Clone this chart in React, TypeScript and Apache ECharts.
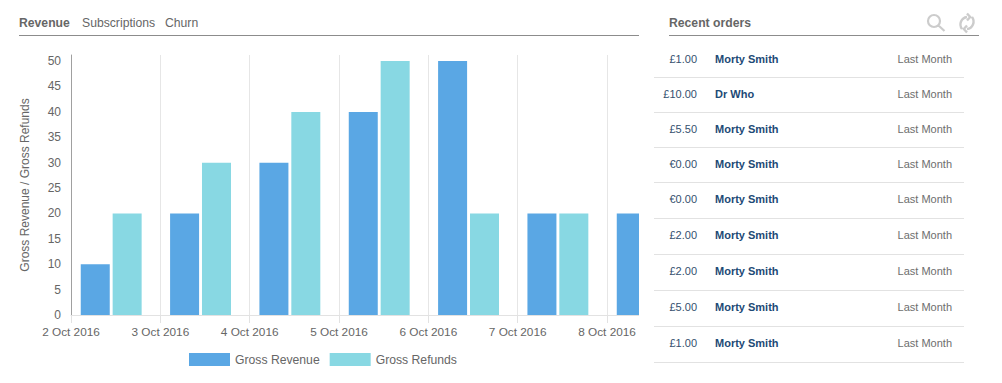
import React, { useEffect, useRef } from "react";
import * as echarts from "echarts";

const dates = ["2 Oct 2016", "3 Oct 2016", "4 Oct 2016", "5 Oct 2016", "6 Oct 2016", "7 Oct 2016", "8 Oct 2016"];
const grossRevenue = [10, 20, 30, 40, 50, 20, 20];
const grossRefunds = [20, 30, 40, 50, 20, 20];
const tabs = ["Revenue", "Subscriptions", "Churn"];
const amounts = ["£1.00", "£10.00", "£5.50", "€0.00", "€0.00", "£2.00", "£2.00", "£5.00", "£1.00"];
const customers = ["Morty Smith", "Dr Who", "Morty Smith", "Morty Smith", "Morty Smith", "Morty Smith", "Morty Smith", "Morty Smith", "Morty Smith"];
const times = ["Last Month", "Last Month", "Last Month", "Last Month", "Last Month", "Last Month", "Last Month", "Last Month", "Last Month"];

const FONT = '"Liberation Sans", Arial, sans-serif';
const rowY = [59, 94, 129, 164, 199, 235, 271, 307, 343];
const sepY = [77.5, 112.5, 147.5, 182.5, 218.5, 254.5, 290.5, 326.5, 362.5];
const tabX = [19, 82, 165];

echarts.graphic.registerShape("searchIcon", echarts.graphic.extendPath("M6 0a6 6 0 1 0 0 12a6 6 0 1 0 0-12zM10.5 10.5l6 5.5", {}));
echarts.graphic.registerShape("refreshIcon", echarts.graphic.extendPath("M3 16A7.5 7.5 0 0 1 8 4M13 4A7.5 7.5 0 0 1 8 16M8 0.5l3.2 3.5l-3.2 3.5M8 19.5l-3.2-3.5l3.2-3.5", {}));

const text = (x: number, y: number, t: string, fill: string, extra: any = {}) => ({
  type: "text", x, y,
  style: { text: t, fill, font: `${extra.weight || "normal"} ${extra.size || 11}px ${FONT}`, textAlign: extra.align || "left", textVerticalAlign: "middle" },
});
const line = (x1: number, x2: number, y: number, stroke: string) => ({
  type: "line", shape: { x1, y1: y, x2, y2: y }, style: { stroke, lineWidth: 1 },
});

export default function App() {
  const chartRef = useRef<HTMLDivElement>(null);
  const panelRef = useRef<HTMLDivElement>(null);
  useEffect(() => {
    const chart = echarts.init(chartRef.current!, undefined, { renderer: "svg" });
    const panel = echarts.init(panelRef.current!, undefined, { renderer: "svg" });

    const panelGraphics: any[] = [
      text(19, 22.5, "Recent orders", "#666", { size: 12.2, weight: "bold" }),
      line(19, 329, 35.5, "#8c8c8c"),
      { type: "searchIcon", x: 278, y: 15, style: { fill: "none", stroke: "#cccccc", lineWidth: 2.2 } },
      { type: "refreshIcon", x: 309, y: 13, style: { fill: "none", stroke: "#cccccc", lineWidth: 2.4 } },
    ];
    amounts.forEach((a, i) => {
      panelGraphics.push(text(47, rowY[i], a, "#34506e", { align: "right" }));
      panelGraphics.push(text(65, rowY[i], customers[i], "#1d4a76", { weight: "bold" }));
      panelGraphics.push(text(302, rowY[i], times[i], "#6e6e6e", { align: "right" }));
      panelGraphics.push(line(4, 314, sepY[i], "#e2e2e2"));
    });
    panel.setOption({ animation: false, graphic: { elements: panelGraphics } });

    const barOffset = 0.45;
    const toPoints = (vals: number[]) => vals.map((v, i) => [i + barOffset, v]);
    chart.setOption({
      animation: false,
      textStyle: { fontFamily: FONT },
      grid: { left: 71, top: 55, width: 568, height: 260 },
      legend: {
        left: 184, top: 348, itemWidth: 41, itemHeight: 13, itemGap: 10, icon: "rect",
        textStyle: { color: "#666", fontSize: 12.2, fontFamily: FONT },
        data: ["Gross Revenue", "Gross Refunds"],
      },
      xAxis: {
        type: "value", min: 0, max: 6.358, interval: 1,
        axisLine: { show: true, lineStyle: { color: "#e2e2e2" } },
        axisTick: { show: true, length: 8, lineStyle: { color: "#e2e2e2" } },
        splitLine: { show: true, showMaxLine: false, lineStyle: { color: "#e6e6e6" } },
        axisLabel: {
          color: "#666", fontSize: 11.8, margin: 11, showMaxLabel: false, hideOverlap: false,
          formatter: (v: number) => dates[v] ?? "",
        },
      },
      yAxis: {
        type: "value", min: 0, max: 51.2, interval: 5,
        name: "Gross Revenue / Gross Refunds", nameLocation: "middle", nameGap: 40,
        nameTextStyle: { color: "#666", fontSize: 12 },
        axisLine: { show: true, lineStyle: { color: "#a0a0a0" } },
        axisTick: { show: false },
        splitLine: { show: false },
        axisLabel: { color: "#666", fontSize: 12, margin: 10, showMaxLabel: false },
      },
      series: [
        { name: "Gross Revenue", type: "bar", data: toPoints(grossRevenue), barWidth: 29, barGap: "10%", itemStyle: { color: "#5aa7e4" } },
        { name: "Gross Refunds", type: "bar", data: toPoints(grossRefunds), barWidth: 29, barGap: "10%", itemStyle: { color: "#88d8e3" } },
      ],
      graphic: {
        elements: [
          ...tabs.map((t, i) => text(tabX[i], 22.5, t, "#666", { size: 12.2, weight: i === 0 ? "bold" : "normal" })),
          line(19, 639, 35.5, "#8c8c8c"),
        ],
      },
    });
    return () => {
      chart.dispose();
      panel.dispose();
    };
  }, []);
  return (
    <div style={{ position: "absolute", left: 0, top: 0, width: 1002, height: 383, overflow: "hidden", background: "#fff" }}>
      <div ref={chartRef} style={{ position: "absolute", left: 0, top: 0, width: 639, height: 383, overflow: "hidden" }} />
      <div ref={panelRef} style={{ position: "absolute", left: 650, top: 0, width: 352, height: 383 }} />
    </div>
  );
}
